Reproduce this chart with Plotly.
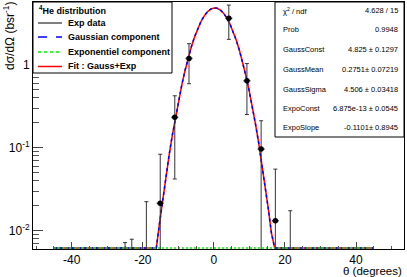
import numpy as np
import plotly.graph_objects as go

# ---------------- data ----------------
theta = [-25.0, -23.1, -19.0, -15.1, -11.0, -7.0, 4.2, 9.3, 13.3, 17.3, 21.5]
xsec = [0.0, 0.0, 0.0, 0.0214, 0.232, 1.19, 3.62, 0.641, 0.0962, 0.0132, 0.0]
xsec_err = [0.0072, 0.0079, 0.0224, 0.062, 0.19, 0.6, 1.6, 0.39, 0.115, 0.042, 0.0174]
theta_err = [1.0, 1.0, 1.0, 1.0, 1.0, 1.0, 1.0, 1.0, 1.0, 1.0, 1.0]

# fit parameters (stats box)
stat_names = ["χ<sup>2</sup> / ndf", "Prob", "GaussConst", "GaussMean", "GaussSigma", "ExpoConst", "ExpoSlope"]
stat_values = ["4.628 / 15", "0.9948", "4.825 ± 0.1297", "0.2751± 0.07219", "4.506 ± 0.03418",
               "6.875e-13 ± 0.0545", "-0.1101± 0.8945"]
gauss_const, gauss_mean, gauss_sigma = 4.825, 0.2751, 4.506
expo_const, expo_slope = 6.875e-13, -0.1101
fit_range = [-45.0, 45.0]
fit_npx = 100

x_tickvals = [-40, -20, 0, 20, 40]
x_ticktext = ["-40", "-20", "0", "20", "40"]
y_tickvals = [0.01, 0.1, 1]
y_ticktext = ["10<sup>-2</sup>", "10<sup>-1</sup>", "1"]

legend_title = "<sup>4</sup>He distribution"
legend_labels = ["Exp data", "Gaussian component", "Exponentiel component", "Fit : Gauss+Exp"]

# ---------------- layout geometry ----------------
W, H = 407, 277
ML, MR, MT, MB = 33, 3, 2, 28
PW, PH = W - ML - MR, H - MT - MB
XR = [-50.9, 53.5]
YR = [-2.22, 0.755]  # log10


def px(x):
    return (x - ML) / PW


def py(y):
    return (H - MB - y) / PH


floor = 10 ** (YR[0] + 1.0 / PH * (YR[1] - YR[0]))

# ---------------- traces ----------------
t = np.linspace(fit_range[0], fit_range[1], fit_npx + 1)
gauss = gauss_const * np.exp(-0.5 * ((t - gauss_mean) / gauss_sigma) ** 2)
expo = expo_const * np.exp(expo_slope * t)
fit = gauss + expo

fig = go.Figure()
fig.add_trace(go.Scatter(x=t, y=np.maximum(fit, floor), mode="lines",
                         line=dict(color="#ff0000", width=1.5), showlegend=False))
fig.add_trace(go.Scatter(x=t, y=np.maximum(gauss, floor), mode="lines",
                         line=dict(color="#0000ff", width=1.5, dash="3px,3px"), showlegend=False))
fig.add_trace(go.Scatter(x=t, y=np.maximum(expo, floor), mode="lines",
                         line=dict(color="#00ee00", width=1.5, dash="2px,2px"), showlegend=False))

tiny = 1e-5
yplot = [v if v > 0 else tiny for v in xsec]
eplus = [v + e - yp for v, e, yp in zip(xsec, xsec_err, yplot)]
eminus = [yp - max(v - e, tiny) for v, e, yp in zip(xsec, xsec_err, yplot)]
fig.add_trace(go.Scatter(
    x=theta, y=yplot, mode="markers",
    marker=dict(color="black", size=5.5, symbol="circle"),
    error_y=dict(type="data", array=eplus, arrayminus=eminus, symmetric=False,
                 color="#333333", thickness=1, width=2),
    error_x=dict(type="data", array=theta_err, color="#555555", thickness=1.5, width=0),
    showlegend=False))

# ---------------- legend box (manual, ROOT style) ----------------
shapes = []
annotations = []
shapes.append(dict(type="rect", xref="paper", yref="paper", x0=px(33), x1=px(172), y0=py(73), y1=py(2),
                   line=dict(color="black", width=1), fillcolor="white", layer="above"))
annotations.append(dict(xref="paper", yref="paper", x=px(37), y=py(10), xanchor="left", yanchor="middle",
                        text="<b>" + legend_title + "</b>", showarrow=False,
                        font=dict(family="Liberation Sans", size=9, color="black")))
leg_y = [23, 37, 52, 66.5]
leg_styles = [dict(color="black", width=1, dash="solid"),
              dict(color="#0000ff", width=1.5, dash="dash"),
              dict(color="#00ee00", width=1.5, dash="dot"),
              dict(color="#ff0000", width=1.5, dash="solid")]
for yy, lab, st in zip(leg_y, legend_labels, leg_styles):
    shapes.append(dict(type="line", xref="paper", yref="paper", x0=px(38), x1=px(62), y0=py(yy), y1=py(yy),
                       line=st, layer="above"))
    annotations.append(dict(xref="paper", yref="paper", x=px(66), y=py(yy), xanchor="left", yanchor="middle",
                            text="<b>" + lab + "</b>", showarrow=False,
                            font=dict(family="Liberation Sans", size=9, color="black")))

# ---------------- stats box ----------------
shapes.append(dict(type="rect", xref="paper", yref="paper", x0=px(275), x1=px(404), y0=py(137), y1=py(2),
                   line=dict(color="black", width=1), fillcolor="white", layer="above"))
stat_y = [10.5, 30, 50, 69.5, 89, 108.5, 128]
for yy, nm, val in zip(stat_y, stat_names, stat_values):
    annotations.append(dict(xref="paper", yref="paper", x=px(281), y=py(yy), xanchor="left", yanchor="middle",
                            text=nm, showarrow=False,
                            font=dict(family="Liberation Sans", size=7.5, color="black")))
    annotations.append(dict(xref="paper", yref="paper", x=px(400), y=py(yy), xanchor="right", yanchor="middle",
                            text=val, showarrow=False,
                            font=dict(family="Liberation Sans", size=7.5, color="black")))

# axis titles
annotations.append(dict(xref="paper", yref="paper", x=px(9), y=py(36), xanchor="center", yanchor="middle",
                        text="dσ/dΩ (bsr<sup>-1</sup>)", textangle=-90, showarrow=False,
                        font=dict(family="Liberation Sans", size=12, color="black")))
annotations.append(dict(xref="paper", yref="paper", x=px(403), y=py(270.5), xanchor="right", yanchor="middle",
                        text="θ (degrees)", showarrow=False, borderpad=0,
                        font=dict(family="Liberation Sans", size=11.5, color="black")))

fig.update_layout(
    width=W, height=H, margin=dict(l=ML, r=MR, t=MT, b=MB),
    paper_bgcolor="white", plot_bgcolor="white",
    font=dict(family="Liberation Sans", size=12, color="black"),
    shapes=shapes, annotations=annotations, showlegend=False,
    xaxis=dict(range=XR, showgrid=False, zeroline=False, showline=True, mirror=True,
               linecolor="black", linewidth=1, ticks="inside", ticklen=7, tickcolor="#444",
               tickmode="array", tickvals=x_tickvals, ticktext=x_ticktext,
               minor=dict(ticks="inside", ticklen=3.5, tickcolor="#555", tickmode="linear",
                          dtick=5, tick0=0, showgrid=False),
               tickfont=dict(size=12)),
    yaxis=dict(type="log", range=YR, showgrid=False, zeroline=False, showline=True, mirror=True,
               linecolor="black", linewidth=1, ticks="inside", ticklen=10, tickcolor="#444",
               tickmode="array", tickvals=y_tickvals, ticktext=y_ticktext,
               minor=dict(ticks="inside", ticklen=5.5, tickcolor="#555", tickmode="linear",
                          dtick="D1", showgrid=False),
               tickfont=dict(size=12)),
)

fig.write_html("out.html", config={"displayModeBar": False},
               post_script="document.body.style.margin='0';document.body.style.overflow='hidden';")
